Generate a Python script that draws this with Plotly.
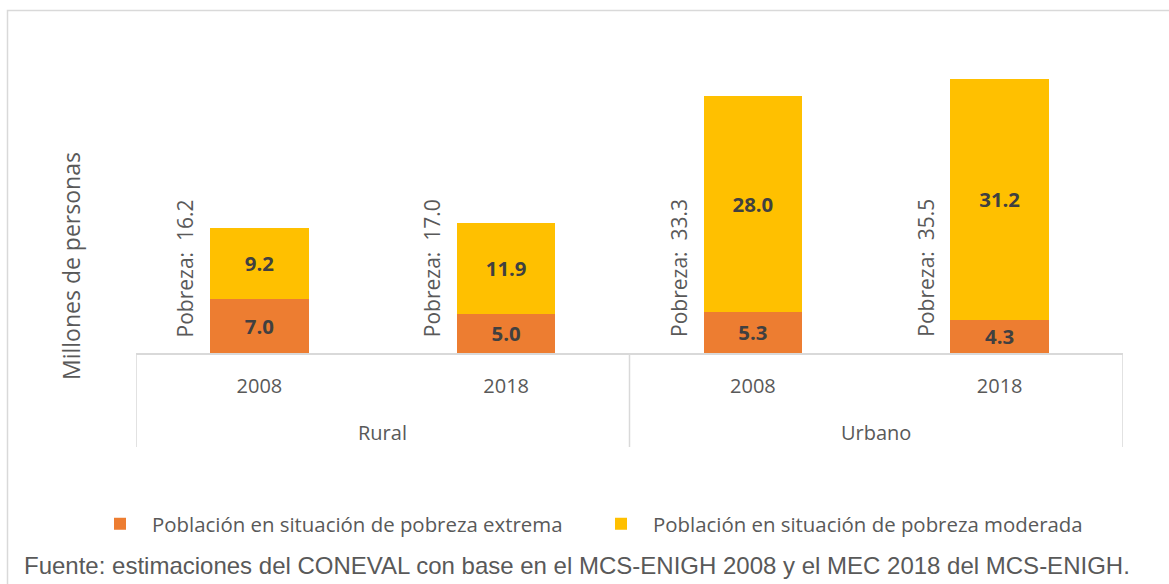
import plotly.graph_objects as go

# ---- data ----
zonas = ["Rural", "Rural", "Urbano", "Urbano"]
anios = ["2008", "2018", "2008", "2018"]
grupos = ["Rural", "Urbano"]
pobreza_extrema = [7.0, 5.0, 5.3, 4.3]
pobreza_moderada = [9.2, 11.9, 28.0, 31.2]
pobreza_total = [16.2, 17.0, 33.3, 35.5]
serie_extrema = "Población en situación de pobreza extrema"
serie_moderada = "Población en situación de pobreza moderada"
titulo_y = "Millones de personas"
fuente = "Fuente: estimaciones del CONEVAL con base en el MCS-ENIGH 2008 y el MEC 2018 del MCS-ENIGH."

# ---- geometry helpers (pixel -> paper) ----
W, H = 1169, 584
L, R, T, B = 136, 1123, 40, 353
def px(x):
    return (x - L) / (R - L)
def py(y):
    return (B - y) / (B - T)

ORANGE = "#ED7D31"
YELLOW = "#FFC000"
GRAY = "#595959"
DARK = "#404040"
LINE = "#D9D9D9"
FONT = "Open Sans"

xpos = list(range(len(anios)))

fig = go.Figure()
fig.add_trace(go.Bar(
    x=xpos, y=pobreza_extrema, name=serie_extrema,
    marker=dict(color=ORANGE, line=dict(width=0)), width=0.4,
    texttemplate="%{y:.1f}", textposition="inside", insidetextanchor="middle",
    textangle=0,
    textfont=dict(family=FONT, size=21, color=DARK, weight="bold"),
    hoverinfo="skip",
))
fig.add_trace(go.Bar(
    x=xpos, y=pobreza_moderada, name=serie_moderada,
    marker=dict(color=YELLOW, line=dict(width=0)), width=0.4,
    texttemplate="%{y:.1f}", textposition="inside", insidetextanchor="middle",
    textangle=0,
    textfont=dict(family=FONT, size=21, color=DARK, weight="bold"),
    hoverinfo="skip",
))

annotations = []
# "Pobreza" rotated labels
for i, t in enumerate(pobreza_total):
    annotations.append(dict(
        x=xpos[i] - 0.3, y=1.8, xref="x", yref="y",
        text=f"Pobreza:\u00a0 {t:.1f}", textangle=-90, showarrow=False,
        xanchor="center", yanchor="bottom",
        font=dict(family=FONT, size=21, color=GRAY),
    ))
# group labels
for gi, g in enumerate(grupos):
    idx = [i for i, z in enumerate(zonas) if z == g]
    annotations.append(dict(
        x=sum(idx) / len(idx), y=py(432), xref="x", yref="paper",
        text=g, showarrow=False, xanchor="center", yanchor="middle",
        font=dict(family=FONT, size=20, color=GRAY),
    ))
# y title
annotations.append(dict(
    x=px(71), y=py(266), xref="paper", yref="paper", text=titulo_y,
    textangle=-90, showarrow=False, xanchor="center", yanchor="middle",
    font=dict(family=FONT, size=23, color=GRAY),
))
# footer
annotations.append(dict(
    x=px(22), y=py(565), xref="paper", yref="paper", text=fuente,
    showarrow=False, xanchor="left", yanchor="middle",
    font=dict(family="Liberation Sans", size=24, color=GRAY),
))

shapes = []
# outer frame
shapes.append(dict(type="rect", xref="paper", yref="paper",
                   x0=px(7.5), x1=px(1200), y0=py(10.5), y1=py(620),
                   line=dict(color=LINE, width=1.5), fillcolor="rgba(0,0,0,0)", layer="below"))
# dividers
div_x = [-0.5, 1.5, 3.5]
for dx in div_x:
    shapes.append(dict(type="line", xref="x", yref="paper",
                       x0=dx, x1=dx, y0=0, y1=py(447),
                       line=dict(color=LINE, width=1.5)))

fig.update_layout(
    width=W, height=H,
    margin=dict(l=L, r=W - R, t=T, b=H - B),
    paper_bgcolor="white", plot_bgcolor="white",
    barmode="stack", bargap=0.6,
    showlegend=True,
    legend=dict(orientation="h", x=px(88), y=py(524), xanchor="left", yanchor="middle",
                font=dict(family=FONT, size=20.4, color=GRAY),
                itemwidth=54,
                entrywidth=432, entrywidthmode="pixels", traceorder="normal",
                bgcolor="rgba(0,0,0,0)"),
    xaxis=dict(range=[-0.5, 3.5], tickvals=xpos, ticktext=anios,
               showline=True, linecolor=LINE, linewidth=1.5, ticks="",
               showgrid=False, zeroline=False, ticklabelstandoff=14,
               tickfont=dict(family=FONT, size=20, color=GRAY), fixedrange=True),
    yaxis=dict(range=[0, (B - T) / 7.72], visible=False, showgrid=False,
               zeroline=False, fixedrange=True),
    annotations=annotations, shapes=shapes,
    uniformtext=dict(mode="show", minsize=8),
)

fig.write_html("out.html", config={"displayModeBar": False},
               post_script="document.body.style.margin='0';document.body.style.padding='0';")
